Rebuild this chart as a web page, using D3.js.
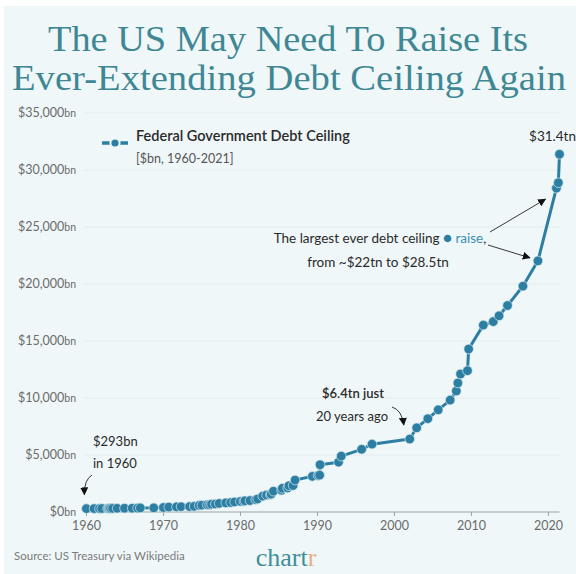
<!DOCTYPE html>
<html>
<head>
<meta charset="utf-8">
<script src="https://cdn.jsdelivr.net/npm/d3@7"></script>
<style>
  html, body { margin: 0; padding: 0; background: #ffffff; }
  svg { display: block; }
</style>
</head>
<body>
<script>
// US federal debt ceiling changes, $bn (year position on the time axis)
const years = [
  1960.05, 1961.05, 1961.75, 1962.05, 1962.8, 1962.95, 1963.05, 1963.2, 1963.45,
  1964.05, 1965.0, 1966.0, 1966.7, 1967.05, 1968.8, 1970.05, 1970.75, 1971.75,
  1972.35, 1973.45, 1974.05, 1974.7, 1975.05, 1975.75, 1976.05, 1976.3, 1976.8,
  1977.3, 1978.15, 1978.8, 1979.3, 1980.05, 1980.5, 1980.65, 1981.3, 1982.05,
  1982.3, 1982.95, 1983.45, 1983.95, 1984.05, 1984.35, 1985.4, 1985.5, 1986.2,
  1986.35, 1986.9, 1987.15, 1989.4, 1990.15, 1990.35, 1990.4, 1992.8, 1993.15,
  1995.8, 1997.15, 2002.05, 2002.95, 2004.4, 2005.75, 2007.3, 2008.1, 2008.3,
  2008.65, 2009.55, 2009.7, 2011.6, 2012.9, 2013.65, 2014.75, 2016.75, 2018.7,
  2021.1, 2021.35, 2021.5
];
const ceilings = [
  293, 298, 300, 308, 305, 307, 309, 309, 315,
  324, 328, 330, 336, 358, 365, 395, 430, 450,
  465, 475, 495, 577, 595, 627, 636, 682, 700,
  752, 798, 830, 879, 925, 935, 985, 999.8, 1079.8,
  1143.1, 1389, 1490, 1520, 1573, 1823.8, 1903.8, 2078.7, 2111,
  2300, 2320, 2800, 3122.7, 3195, 3230, 4145, 4370, 4900,
  5500, 5950, 6400, 7384, 8184, 8965, 9815, 10615, 11315,
  12104, 12394, 14294, 16394, 16699, 17212, 18113, 19809, 22030,
  28401, 28881, 31381
];
const yTicks = [0, 5000, 10000, 15000, 20000, 25000, 30000, 35000];
const xTicks = [1960, 1970, 1980, 1990, 2000, 2010, 2020];

const W = 576, H = 574;
const BG = "#eff7f9";
const BLUE = "#2d7ea3";
const TEAL = "#3f8794";
const SANS = "Lato, 'Noto Sans', sans-serif";

const data = years.map((yr, i) => ({ year: yr, value: ceilings[i] }));

const svg = d3.select("body").append("svg")
  .attr("width", W).attr("height", H);

svg.append("rect").attr("width", W).attr("height", H).attr("fill", "#ffffff");
svg.append("rect").attr("x", 4).attr("y", 6).attr("width", W - 4).attr("height", H - 6).attr("fill", BG);

const defs = svg.append("defs");
defs.append("marker")
  .attr("id", "arrow")
  .attr("viewBox", "0 0 10 10")
  .attr("refX", 9).attr("refY", 5)
  .attr("markerWidth", 8).attr("markerHeight", 8)
  .attr("markerUnits", "userSpaceOnUse")
  .attr("orient", "auto")
  .append("path").attr("d", "M0,0 L10,5 L0,10 z").attr("fill", "#111");

// Title
const title = svg.append("g")
  .attr("font-family", "'Liberation Serif', 'DejaVu Serif', serif")
  .attr("fill", TEAL)
  .attr("text-anchor", "middle");
title.append("text")
  .attr("x", 288).attr("y", 51)
  .attr("font-size", 35)
  .attr("textLength", 480).attr("lengthAdjust", "spacingAndGlyphs")
  .text("The US May Need To Raise Its");
title.append("text")
  .attr("x", 289).attr("y", 90)
  .attr("font-size", 35)
  .attr("textLength", 554).attr("lengthAdjust", "spacingAndGlyphs")
  .text("Ever-Extending Debt Ceiling Again");

// Scales
const x = d3.scaleLinear().domain([1960, 2021.5]).range([86, 559.5]);
const y = d3.scaleLinear().domain([0, 35000]).range([512, 113]);

// Gridlines
svg.append("g").selectAll("line")
  .data(yTicks.filter(d => d > 0))
  .join("line")
  .attr("x1", 84).attr("x2", 560)
  .attr("y1", d => y(d)).attr("y2", d => y(d))
  .attr("stroke", "#e2ecef").attr("stroke-width", 1);

// Y axis labels
const yLab = svg.append("g")
  .attr("font-family", SANS).attr("fill", "#6b6b6b")
  .attr("text-anchor", "end");
yLab.selectAll("text")
  .data(yTicks)
  .join("text")
  .attr("x", 76).attr("y", d => y(d) + 4)
  .attr("font-size", 12.5)
  .each(function (d) {
    const t = d3.select(this);
    t.append("tspan").text("$" + d3.format(",")(d));
    t.append("tspan").attr("font-size", 10.5).text("bn");
  });

// X axis
const xAxis = d3.axisBottom(x)
  .tickValues(xTicks)
  .tickFormat(d3.format("d"))
  .tickSize(4)
  .tickPadding(5);
const gx = svg.append("g")
  .attr("transform", `translate(0,${y(0)})`)
  .call(xAxis);
gx.select(".domain").attr("stroke", "#9aa3a6").attr("d", `M86,0H559.5`);
gx.selectAll(".tick line").attr("stroke", "#9aa3a6");
gx.selectAll(".tick text")
  .attr("font-family", SANS).attr("font-size", 12.5).attr("fill", "#6b6b6b");

// Series line and points
const line = d3.line().x(d => x(d.year)).y(d => y(d.value));
svg.append("path")
  .datum(data)
  .attr("d", line)
  .attr("fill", "none")
  .attr("stroke", BLUE)
  .attr("stroke-width", 3)
  .attr("stroke-linejoin", "round");

svg.append("g").selectAll("circle")
  .data(data)
  .join("circle")
  .attr("cx", d => x(d.year))
  .attr("cy", d => y(d.value))
  .attr("r", 4.8)
  .attr("fill", BLUE)
  .attr("stroke", "#d7e9ef")
  .attr("stroke-width", 0.7);

// Legend
const leg = svg.append("g");
leg.append("line").attr("x1", 102).attr("x2", 128).attr("y1", 143).attr("y2", 143)
  .attr("stroke", BLUE).attr("stroke-width", 3.5);
leg.append("circle").attr("cx", 115).attr("cy", 143).attr("r", 4.6)
  .attr("fill", BLUE).attr("stroke", BG).attr("stroke-width", 2);
leg.append("text").attr("x", 136).attr("y", 141)
  .attr("font-family", SANS).attr("font-size", 14.5).attr("font-weight", 600)
  .attr("fill", "#2a2a2a")
  .text("Federal Government Debt Ceiling");
leg.append("text").attr("x", 136).attr("y", 163)
  .attr("font-family", SANS).attr("font-size", 12.5).attr("fill", "#555")
  .text("[$bn, 1960-2021]");

// Annotations
const ann = svg.append("g").attr("font-family", SANS).attr("font-size", 13.5).attr("fill", "#2a2a2a");

const last = data[data.length - 1];
ann.append("text")
  .attr("x", x(last.year) - 7).attr("y", y(last.value) - 13)
  .attr("text-anchor", "middle")
  .text("$" + (last.value / 1000).toFixed(1) + "tn");

const big = ann.append("text").attr("x", 380).attr("y", 243).attr("text-anchor", "middle");
big.append("tspan").text("The largest ever debt ceiling ");
big.append("tspan").attr("fill", BLUE).attr("font-size", 15).text("●");
big.append("tspan").attr("fill", "#3c8fb3").text(" raise");
big.append("tspan").text(",");
ann.append("text").attr("x", 378).attr("y", 267).attr("text-anchor", "middle")
  .text("from ~$22tn to $28.5tn");

const from22 = data.find(d => d.value === 22030);
const to285 = data.find(d => d.value === 28401);
svg.append("line")
  .attr("x1", 490).attr("y1", 232)
  .attr("x2", x(to285.year) - 11).attr("y2", y(to285.value) + 11)
  .attr("stroke", "#222").attr("stroke-width", 0.9)
  .attr("marker-end", "url(#arrow)");
svg.append("line")
  .attr("x1", 488).attr("y1", 245)
  .attr("x2", x(from22.year) - 8).attr("y2", y(from22.value) - 3)
  .attr("stroke", "#222").attr("stroke-width", 0.9)
  .attr("marker-end", "url(#arrow)");

// $6.4tn in 2002
const p2002 = data.find(d => d.value === 6400);
ann.append("text").attr("x", 353).attr("y", 398).attr("text-anchor", "middle")
  .attr("font-size", 13).attr("font-weight", 600).text("$6.4tn just");
ann.append("text").attr("x", 352).attr("y", 421).attr("text-anchor", "middle")
  .attr("font-size", 13).text("20 years ago");
svg.append("path")
  .attr("d", `M392,407 Q402,410 ${x(p2002.year) - 6},${y(p2002.value) - 14}`)
  .attr("fill", "none").attr("stroke", "#222").attr("stroke-width", 0.9)
  .attr("marker-end", "url(#arrow)");

// $293bn in 1960
const first = data[0];
ann.append("text").attr("x", 93).attr("y", 446).attr("font-size", 13).text("$" + first.value + "bn");
ann.append("text").attr("x", 93).attr("y", 468).attr("font-size", 13).text("in " + Math.floor(first.year));
svg.append("path")
  .attr("d", `M92,475 Q84,480 ${x(first.year) - 2},${y(first.value) - 14}`)
  .attr("fill", "none").attr("stroke", "#222").attr("stroke-width", 0.9)
  .attr("marker-end", "url(#arrow)");

// Footer
svg.append("text").attr("x", 14).attr("y", 560)
  .attr("font-family", SANS).attr("font-size", 11.5).attr("fill", "#7a7a7a")
  .text("Source: US Treasury via Wikipedia");
const logo = svg.append("text").attr("x", 286).attr("y", 566)
  .attr("text-anchor", "middle")
  .attr("font-family", "'Liberation Serif', 'DejaVu Serif', serif")
  .attr("font-size", 26);
logo.append("tspan").attr("fill", "#3f8f98").text("chart");
logo.append("tspan").attr("fill", "#e9ae86").text("r");
</script>
</body>
</html>
